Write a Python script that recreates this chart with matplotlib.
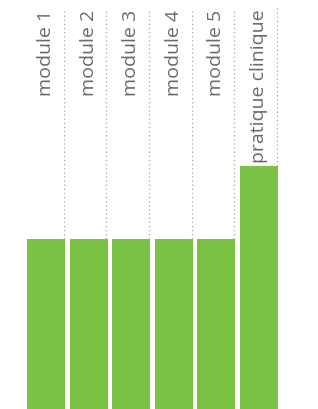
import matplotlib
matplotlib.use('Agg')
import matplotlib.pyplot as plt
import matplotlib.transforms as mtransforms

labels = ['module 1', 'module 2', 'module 3', 'module 4', 'module 5', 'pratique clinique']
values = [7, 7, 7, 7, 7, 10]

bar_color = '#7bc143'
text_color = '#6a6a6a'
line_color = '#a0a0a0'

plt.rcParams['font.family'] = ['Open Sans', 'DejaVu Sans']

fig = plt.figure(figsize=(3.18, 4.10), dpi=100)
ax = fig.add_axes([27 / 318, 0.5 / 410, 251 / 318, 401 / 410])

xs = list(range(len(values)))
width = 0.892

# dotted guide lines from the top of each bar up to the top of the plot
top = 16.57
for x, v in zip(xs, values):
    ax.plot([x + 0.42, x + 0.42], [v, top], color=line_color, lw=0.9,
            linestyle=(0, (1, 2.3)), zorder=1)

ax.bar(xs, values, width=width, color=bar_color, zorder=2)

trans = mtransforms.blended_transform_factory(ax.transData, ax.transAxes)
for x, lab in zip(xs, labels):
    ax.text(x, 0.997, lab, transform=trans, rotation=90, ha='center', va='top',
            fontsize=14, color=text_color)

ax.set_xlim(-0.446, 5.446)
ax.set_ylim(0, top)
ax.axis('off')

plt.savefig('out.png', dpi=100)
